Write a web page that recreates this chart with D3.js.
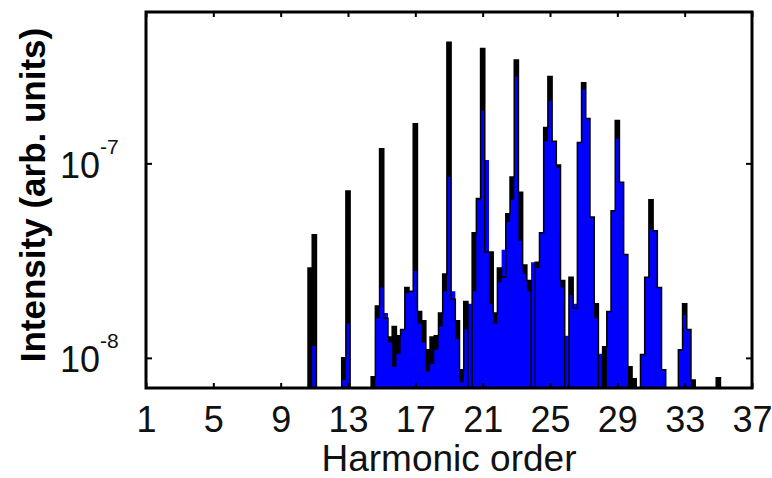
<!DOCTYPE html>
<html>
<head>
<meta charset="utf-8">
<script src="https://cdn.jsdelivr.net/npm/d3@7"></script>
<style>
  body { margin: 0; background: #fff; }
  svg { display: block; font-family: Arial, "Liberation Sans", sans-serif; }
</style>
</head>
<body>
<div id="chart"></div>
<script>
// harmonic order of each sample (bin width 0.25)
const ordens = [
  10.5, 10.75, 11, 11.25, 11.5, 11.75, 12, 12.25, 12.5, 12.75,
  13, 13.25, 13.5, 13.75, 14, 14.25, 14.5, 14.75, 15, 15.25,
  15.5, 15.75, 16, 16.25, 16.5, 16.75, 17, 17.25, 17.5, 17.75,
  18, 18.25, 18.5, 18.75, 19, 19.25, 19.5, 19.75, 20, 20.25,
  20.5, 20.75, 21, 21.25, 21.5, 21.75, 22, 22.25, 22.5, 22.75,
  23, 23.25, 23.5, 23.75, 24, 24.25, 24.5, 24.75, 25, 25.25,
  25.5, 25.75, 26, 26.25, 26.5, 26.75, 27, 27.25, 27.5, 27.75,
  28, 28.25, 28.5, 28.75, 29, 29.25, 29.5, 29.75, 30, 30.25,
  30.5, 30.75, 31, 31.25, 31.5, 31.75, 32, 32.25, 32.5, 32.75,
  33, 33.25, 33.5, 33.75, 34, 34.25, 34.5, 34.75, 35, 35.25
];

// black spectrum (arb. units), null = below the axis
const espectroPreto = [
  null, 2.9e-8, 4.3e-8, null, null, null, null, null, null, 1.0e-8,
  7.2e-8, null, null, null, null, null, 8e-9, 1.85e-8, 1.19e-7, 1.6e-8,
  1.28e-8, 1.45e-8, 1.3e-8, 1.4e-8, 2.3e-8, 2.2e-8, 1.6e-7, 1.73e-8, 1.55e-8, 1.1e-8,
  1.28e-8, 1.3e-8, 1.7e-8, 2.7e-8, 4.2e-7, 2.0e-8, 1.55e-8, 8.7e-9, 1.95e-8, 7e-9,
  4.4e-8, 6.6e-8, 3.9e-7, 3.5e-8, 3.5e-8, 1.7e-8, 2.9e-8, 2.6e-8, 5.5e-8, 8.5e-8,
  3.4e-7, 7.1e-8, 3.0e-8, 2.5e-8, 7e-9, 3.1e-8, 4.4e-8, 1.53e-7, 2.8e-7, 1.3e-7,
  9.8e-8, 2.5e-8, null, 2.6e-8, 1.8e-8, 1.28e-7, 2.6e-7, 1.7e-7, 5.3e-8, 1.9e-8,
  null, 1.14e-8, 1.73e-8, 5.7e-8, 1.66e-7, 8.0e-8, 3.4e-8, 9e-9, 7.8e-9, null,
  1.04e-8, 2.6e-8, 6.5e-8, 4.5e-8, 2.3e-8, 8.7e-9, null, null, null, 1.1e-8,
  1.9e-8, 1.4e-8, 7.7e-9, null, null, null, null, null, 7.9e-9, null
];

// blue spectrum (arb. units)
const espectroAzul = [
  null, null, 1.15e-8, null, null, null, null, null, null, 7.7e-9,
  1.5e-8, null, null, null, null, null, null, 1.6e-8, 2.3e-8, 1.7e-8,
  1.2e-8, 9e-9, 1.05e-8, 1.4e-8, 2.15e-8, 2.2e-8, 2.8e-8, 1.5e-8, 1.2e-8, 8.5e-9,
  9.3e-9, 1.1e-8, 1.45e-8, 2.2e-8, 8.5e-8, 2.2e-8, 1.25e-8, 7.5e-9, 1.4e-8, 1.9e-8,
  2.2e-8, 6.5e-8, 1.87e-7, 1.04e-7, 1.9e-8, 1.5e-8, 2.45e-8, 3.6e-8, 5.0e-8, 6.5e-8,
  2.8e-7, 4.0e-8, 2.7e-8, 2.2e-8, 3.1e-8, 2.9e-8, 4.4e-8, 1.3e-7, 2.1e-7, 1.3e-7,
  9.5e-8, 2.3e-8, 1.3e-8, 2.1e-8, 1.9e-8, 1.28e-7, 2.4e-7, 1.7e-7, 5.3e-8, 1.6e-8,
  1.05e-8, null, 1.73e-8, 5.7e-8, 1.34e-7, 8.0e-8, 3.4e-8, null, null, null,
  1.04e-8, 2.6e-8, 4.6e-8, 4.5e-8, 2.3e-8, 8.7e-9, null, null, null, 1.1e-8,
  1.66e-8, 1.4e-8, null, null, null, null, null, null, null, null
];

const xTicks = [1, 5, 9, 13, 17, 21, 25, 29, 33, 37];
const yTicks = [1e-8, 1e-7];
const yTickExpoentes = ["-8", "-7"];
const xDominio = [1, 37];
const yDominio = [7e-9, 6e-7];

const width = 772, height = 478;
const margin = { top: 12, right: 20, bottom: 90, left: 146 };
const w = width - margin.left - margin.right;
const h = height - margin.top - margin.bottom;

const svg = d3.select("#chart").append("svg")
  .attr("width", width).attr("height", height);

svg.append("rect").attr("width", width).attr("height", height).attr("fill", "#fff");

const x = d3.scaleLinear().domain(xDominio).range([0, w]);
const y = d3.scaleLog().domain(yDominio).range([h, 0]);

const inner = svg.append("g").attr("transform", `translate(${margin.left},${margin.top})`);

inner.append("clipPath").attr("id", "clip")
  .append("rect").attr("width", w).attr("height", h);

const plot = inner.append("g").attr("clip-path", "url(#clip)");

const dados = ordens.map((o, i) => ({ ordem: o, preto: espectroPreto[i], azul: espectroAzul[i] }));
const yv = v => v == null ? h + 5 : y(v);

const areaPreta = d3.area().curve(d3.curveStep)
  .x(d => x(d.ordem)).y0(h + 5).y1(d => yv(d.preto));
const areaAzul = d3.area().curve(d3.curveStep)
  .x(d => x(d.ordem)).y0(h + 5).y1(d => yv(d.azul));
const linhaPreta = d3.line().curve(d3.curveStep)
  .x(d => x(d.ordem)).y(d => yv(d.preto));

plot.append("path").datum(dados).attr("d", areaPreta).attr("fill", "#000");
plot.append("path").datum(dados).attr("d", areaAzul).attr("fill", "#0000ff");
plot.append("path").datum(dados).attr("d", linhaPreta)
  .attr("fill", "none").attr("stroke", "#000").attr("stroke-width", 1.5);

// eixos (ticks para dentro)
const estiloEixo = g => {
  g.select(".domain").remove();
  g.selectAll(".tick line").attr("stroke", "#000").attr("stroke-width", 2);
};

const eixoX = inner.append("g").attr("transform", `translate(0,${h})`)
  .call(d3.axisBottom(x).tickValues(xTicks).tickSize(-5).tickPadding(18))
  .call(estiloEixo);
eixoX.selectAll("text").attr("font-size", 36).attr("fill", "#111")
  .attr("font-family", "Arial, 'Liberation Sans', sans-serif");

inner.append("g")
  .call(d3.axisTop(x).tickValues(xTicks).tickSize(-5).tickFormat(""))
  .call(estiloEixo);
inner.append("g")
  .call(d3.axisLeft(y).tickValues(yTicks).tickSize(-6).tickFormat(""))
  .call(estiloEixo);
inner.append("g").attr("transform", `translate(${w},0)`)
  .call(d3.axisRight(y).tickValues(yTicks).tickSize(-6).tickFormat(""))
  .call(estiloEixo);

// rótulos 10^n
const rotY = inner.selectAll(".rotY").data(yTicks).enter()
  .append("text").attr("class", "rotY")
  .attr("x", -86).attr("y", d => y(d) + 14.5)
  .attr("fill", "#111");
rotY.append("tspan").attr("font-size", 36).text("10");
rotY.append("tspan").attr("font-size", 21).attr("dy", -24)
  .text((d, i) => yTickExpoentes[i]);

// moldura
inner.append("rect").attr("width", w).attr("height", h)
  .attr("fill", "none").attr("stroke", "#000").attr("stroke-width", 3);

svg.append("text")
  .attr("x", margin.left + w / 2).attr("y", 471)
  .attr("text-anchor", "middle").attr("font-size", 37).attr("fill", "#111")
  .text("Harmonic order");

svg.append("text")
  .attr("transform", "translate(45,195) rotate(-90)")
  .attr("text-anchor", "middle").attr("font-size", 35).attr("font-weight", "bold")
  .attr("fill", "#000")
  .text("Intensity (arb. units)");
</script>
</body>
</html>
